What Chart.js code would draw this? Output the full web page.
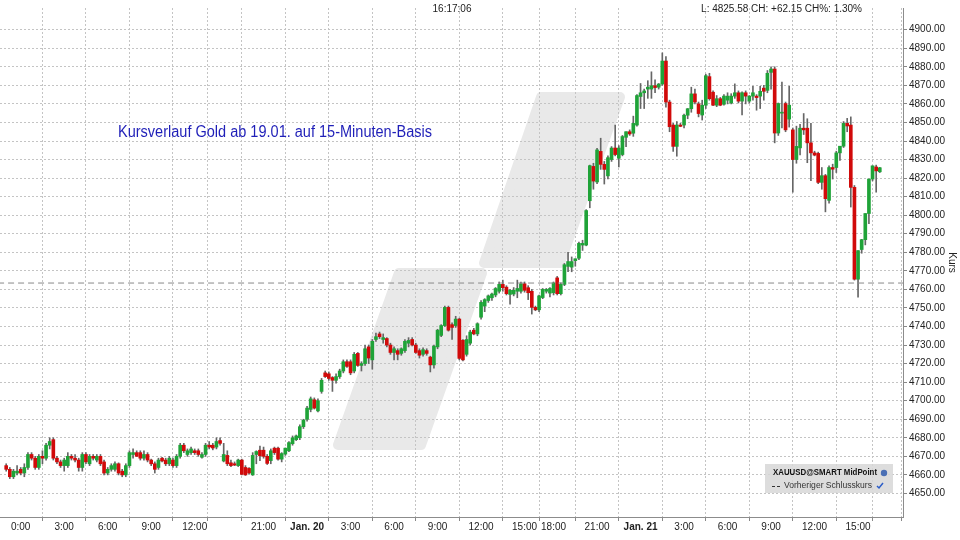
<!DOCTYPE html>
<html>
<head>
<meta charset="utf-8">
<script src="https://cdn.jsdelivr.net/npm/chart.js@4.4.1/dist/chart.umd.min.js"></script>
<style>
html, body { margin: 0; padding: 0; background: #fff; }
canvas { display: block; }
</style>
</head>
<body>
<canvas id="goldChart" width="960" height="540"></canvas>
<script>
// XAUUSD 15-Minuten-Kerzen ab 19.01.
const open = [
  4665,4663,4659,4661,4663,4661,4664,4671,4669,4664,
  4670,4669,4676,4679,4669,4667,4665,4665,4670,4669,
  4668,4664,4671,4666,4670,4668,4670,4667,4661,4663,
  4663,4666,4662,4660,4665,4671,4672,4672,4669,4671,
  4668,4666,4664,4669,4668,4666,4668,4665,4670,4676,
  4671,4672,4673,4673,4669.5,4671,4676,4676,4675,4678.5,
  4667.5,4670.5,4666.5,4666,4665,4668,4664,4663.5,4660,4671,
  4673.3,4673.3,4670,4667.7,4674.4,4674.4,4668.5,4671.2,4673,4676.8,
  4679,4680,4686,4690,4695.3,4700.5,4694.5,4705,4715,4714.5,
  4712.5,4711,4713,4716,4721,4721,4716,4725.5,4719,4720,
  4729,4722,4733,4736,4733,4733.5,4730,4726,4727,4725.5,
  4727,4731,4733,4730,4727,4725,4727,4723.5,4719.3,4729,
  4735.2,4740.5,4750.3,4741,4740.5,4744,4732.6,4725,4731,4738,
  4736,4745,4751,4754,4755.5,4757,4759,4762.7,4761.2,4757.3,
  4757.5,4759,4759,4763,4760.9,4759,4750.3,4749,4755.6,4759,
  4758,4758.2,4766.2,4757.7,4762.7,4772.4,4772,4775.5,4776.8,4783.9,
  4783.9,4807.8,4826.3,4817.9,4834.4,4827.4,4821.2,4830,4836.2,4830.7,
  4832.7,4842,4845,4844.2,4848.6,4864,4866,4868,4868,4869.8,
  4869,4870.7,4883.1,4861,4848.6,4837.1,4848.6,4848.6,4853.9,4857.4,
  4865.4,4860,4854,4859.3,4874.7,4866.3,4859.3,4862.8,4859.8,4862,
  4860.5,4864.2,4866,4861.5,4866,4861.5,4864.2,4864.2,4864.2,4868.5,
  4867.3,4877,4878.8,4844.3,4855,4860.2,4851.8,4846,4830,4836.3,
  4846.9,4846.9,4839,4833.6,4833.3,4817.7,4821.3,4808,4825.7,4825.7,
  4833.6,4837.2,4849.5,4848.6,4815,4765.5,4781.5,4786.8,4800.9,4819.5,
  4826,4823.4
];
const high = [
  4666,4664,4663,4665,4664,4666,4672,4672,4670,4671,
  4673,4677,4680,4680,4670,4668,4669,4672,4671,4671,
  4669,4672,4672,4671,4671,4671,4671,4668,4664,4666,
  4667,4666.5,4663,4666,4673,4674,4673,4673,4673,4672,
  4668.5,4667,4669,4669.5,4669,4670,4669,4671,4677,4677,
  4674,4675,4674,4674,4672,4677,4678,4677,4680,4680,
  4677,4673,4668,4667,4668.5,4668.5,4665,4664,4672,4673,
  4675.6,4675,4671,4674,4675,4675,4672,4674.5,4678,4681,
  4681.5,4687,4690,4697,4702,4701.5,4701,4712,4716,4715.5,
  4713,4714.5,4717,4722,4722,4722,4726,4726,4721,4730,
  4730,4733,4736.5,4737,4736,4734,4731,4729,4728,4728.5,
  4733,4734,4734,4731,4728,4728.5,4728,4724,4730,4738.5,
  4741,4751,4751,4742,4745.5,4744.5,4733,4735,4738,4739,
  4742,4754,4755,4757,4758,4761,4764,4765,4762,4760,
  4761,4765,4764,4764,4762,4760,4751,4757,4760.5,4760.5,
  4761,4764,4767,4763.5,4774,4780,4777.5,4776.5,4785.5,4786.5,
  4803,4827,4828,4836,4841.5,4829,4832,4837,4848.6,4837.5,
  4843,4845,4846,4853.4,4865,4871,4868,4872.5,4877.3,4873,
  4871,4887.5,4885.5,4862,4849.5,4850.5,4849.5,4854.5,4857.5,4869,
  4868,4861,4862,4876,4876.5,4867,4864.5,4863.5,4865,4866,
  4865.5,4870.8,4867,4866.5,4867,4864.5,4869.5,4865,4869.5,4870,
  4878,4880,4880,4860.5,4871.7,4861,4869.5,4847,4848,4849,
  4854.8,4852,4849.5,4834.5,4834,4825.7,4822,4826.6,4827.5,4834.5,
  4835,4850.5,4852.2,4853,4816,4780.9,4787,4800.9,4819.5,4826.6,
  4827,4825.8
];
const low = [
  4662,4658,4658,4660,4660,4659,4663,4668,4663,4663,
  4666,4668,4674,4668,4666,4664,4662,4664,4668,4667,
  4662,4662,4666,4665,4668,4667,4665,4660,4660,4662,
  4662,4660,4659,4659,4664,4669,4670,4668,4668,4667,
  4665,4661,4663,4667,4665,4665,4664,4664,4669,4672,
  4670,4671,4671,4670,4669,4670,4674,4673.5,4674,4676,
  4667,4665,4664.5,4665,4664.5,4660,4659.7,4660.5,4659.7,4666,
  4667.7,4669,4665.6,4666,4671,4668,4667,4670.5,4672.5,4676,
  4678.5,4679,4685,4689,4694,4695.5,4694,4704,4712.5,4711,
  4705,4709.5,4712,4715,4718,4714,4715,4718.5,4716,4719,
  4720,4717,4732,4733.5,4731,4729,4725,4722,4722,4724.5,
  4726,4729,4729.5,4725.5,4723,4724,4724.5,4715.5,4717.5,4728,
  4734.5,4740,4737.5,4733,4739.5,4722,4721.5,4724,4730,4735.5,
  4735,4744,4748,4753,4754,4756,4758,4759,4757,4752,
  4756.5,4755.5,4758,4758.5,4754.5,4746.7,4748.5,4748,4755,4758,
  4756,4757,4757,4757,4762,4769.5,4769.5,4772.5,4776,4781,
  4783.5,4804,4814,4817,4824.7,4816.8,4819.5,4829,4832,4826,
  4832,4837,4843,4842.5,4848,4857.5,4857.5,4863,4863,4866,
  4868,4870,4858.3,4845,4834.4,4831.8,4847.7,4847,4852,4855.5,
  4860,4853,4851.3,4857.5,4862,4859,4858.5,4859,4859.3,4860,
  4860,4863,4860.5,4854,4860,4860.5,4862,4856.6,4857.5,4862,
  4866,4868,4839,4843,4847,4845,4847.5,4812.4,4828,4832.5,
  4843.5,4828.3,4818.6,4832,4817,4814,4801.8,4806.5,4819.5,4823,
  4829.5,4836.5,4845,4804.4,4765,4755.8,4779.5,4784,4795.5,4818.5,
  4812.4,4823
];
const close = [
  4663,4659,4662,4662,4661,4664,4671,4669,4664,4670,
  4669,4676,4678,4669,4667,4665,4668,4670,4669,4668,
  4664,4671,4667,4670,4669,4670,4666,4661,4663,4665,
  4666,4661,4660,4665,4672,4672,4670,4669,4671,4668,
  4666,4663,4668,4667.5,4666,4669,4665,4670,4676,4673,
  4673,4674,4672,4671,4671,4676,4675,4674.5,4678,4677,
  4671,4666,4665,4665.3,4668,4660.3,4660,4661,4670.5,4672.6,
  4670.3,4670,4666.2,4673,4672,4668.5,4671.5,4674.4,4677.4,4680,
  4681,4686,4689.5,4696,4701,4696,4700,4711,4713,4712,
  4711,4713,4716,4721,4718.5,4715,4725,4719,4720,4728,
  4723,4732,4734.5,4734.5,4734,4730,4726,4728,4725,4728,
  4732,4732.5,4730,4726,4724.5,4727.5,4725.5,4719.3,4729.4,4738,
  4740.5,4750.3,4738,4739.5,4744,4722.8,4722,4733,4737,4736,
  4741.5,4753,4754.5,4756.5,4757.5,4760.5,4762.7,4760.9,4757.7,4759.5,
  4759.5,4760.5,4763,4759.5,4758.2,4750.3,4749,4756.5,4760,4760,
  4760.5,4763.5,4757.7,4762.7,4773.3,4775,4775,4776.5,4784.8,4784.8,
  4802.5,4826.7,4818.4,4835.2,4827.4,4824.7,4831,4836.2,4832.7,4836.2,
  4842.4,4845,4843.8,4849.5,4864.5,4866,4867,4869,4869.8,4868.8,
  4870.7,4883.1,4861,4847.7,4837.1,4848.6,4847.9,4853.9,4857.4,4865.4,
  4861,4854.8,4859.3,4875.2,4862.8,4859.3,4862.8,4859.3,4864.2,4864.2,
  4864.2,4866,4861.5,4866,4864.2,4864.2,4866,4863.4,4866.8,4866.8,
  4876.5,4878.8,4844.3,4860.2,4855.5,4846,4859.3,4830,4837.1,4846.9,
  4846,4839,4833.6,4832.4,4817.7,4821.3,4808.9,4825.7,4824.8,4833.6,
  4837.2,4849.5,4848.1,4815,4765.5,4780.9,4786.8,4800.9,4819.5,4826.6,
  4823.9,4825.58
];
const prevClose = 4763.43;

// Handelszeiten, die Zeitachse hat keine Luecken
const sessions = [
  ["2026-01-18T23:00", "2026-01-19T13:30"],
  ["2026-01-19T18:00", "2026-01-20T16:45"],
  ["2026-01-20T18:00", "2026-01-21T17:30"]
];
const tickTimes = ["19.01. 00:00","19.01. 03:00","19.01. 06:00","19.01. 09:00","19.01. 12:00","19.01. 18:00","19.01. 21:00",
  "20.01. 00:00","20.01. 03:00","20.01. 06:00","20.01. 09:00","20.01. 12:00","20.01. 15:00","20.01. 18:00","20.01. 21:00",
  "21.01. 00:00","21.01. 03:00","21.01. 06:00","21.01. 09:00","21.01. 12:00","21.01. 15:00","21.01. 17:00"];
const tickText = ["0:00","3:00","6:00","9:00","12:00","","21:00",
  "Jan. 20","3:00","6:00","9:00","12:00","15:00","18:00","21:00",
  "Jan. 21","3:00","6:00","9:00","12:00","15:00",""];

var times = [];
function pad(n) { return (n < 10 ? "0" : "") + n; }
sessions.forEach(function(s) {
  var t = new Date(s[0] + ":00Z").getTime();
  var end = new Date(s[1] + ":00Z").getTime();
  for (; t <= end; t += 15 * 60000) {
    var d = new Date(t);
    times.push(pad(d.getUTCDate()) + "." + pad(d.getUTCMonth() + 1) + ". " + pad(d.getUTCHours()) + ":" + pad(d.getUTCMinutes()));
  }
});
var tickIdx = tickTimes.map(function(t) { return times.indexOf(t); });

var bodies = [], wicks = [], colors = [];
for (var i = 0; i < close.length; i++) {
  bodies.push({ x: i, y: [open[i], close[i]] });
  wicks.push({ x: i, y: [low[i], high[i]] });
  colors.push(close[i] >= open[i] ? '#1fa338' : '#d10a0a');
}

const FONT = "'Liberation Sans', Arial, sans-serif";

// Text auf feste Breite bringen
function fitText(c, txt, x, y, width) {
  var w = c.measureText(txt).width;
  c.save();
  c.translate(x, y);
  c.scale(Math.min(1, width / w), 1);
  c.fillText(txt, 0, 0);
  c.restore();
}

// Logo im Hintergrund, Texte oben, Legendenbox unten rechts
const deko = {
  id: 'deko',
  beforeDraw(chart) {
    const c = chart.ctx;
    c.save();
    c.fillStyle = '#e9e9e9';
    c.strokeStyle = '#e9e9e9';
    c.lineJoin = 'round';
    c.lineWidth = 10;
    c.beginPath();
    c.moveTo(338, 445); c.lineTo(399, 273); c.lineTo(482, 273); c.lineTo(421, 445); c.closePath();
    c.fill(); c.stroke();
    c.beginPath();
    c.moveTo(484, 263); c.lineTo(541, 97); c.lineTo(620, 97); c.lineTo(560, 263); c.closePath();
    c.fill(); c.stroke();
    c.restore();
  },
  afterDraw(chart) {
    const c = chart.ctx;
    c.save();
    c.fillStyle = '#222';
    c.font = "10px " + FONT;
    c.textBaseline = 'middle';
    c.textAlign = 'center';
    c.fillText("16:17:06", 452, 9);
    const last = close[close.length - 1];
    const ch = last - prevClose;
    c.textAlign = 'right';
    c.fillText("L: " + last.toFixed(2) + " CH: +" + ch.toFixed(2) + " CH%: " + (ch / prevClose * 100).toFixed(2) + "%", 862, 9);

    // Titel
    c.textAlign = 'left';
    c.fillStyle = '#1f1fb8';
    c.font = "16px " + FONT;
    fitText(c, "Kursverlauf Gold ab 19.01. auf 15-Minuten-Basis", 118, 133, 314);
    c.restore();

    // Legende
    c.save();
    c.fillStyle = 'rgba(215,215,215,0.85)';
    c.fillRect(765, 464, 128, 29);
    c.textBaseline = 'middle';
    c.fillStyle = '#111';
    c.font = "bold 9px " + FONT;
    fitText(c, "XAUUSD@SMART MidPoint", 773, 473, 104);
    c.font = "9px " + FONT;
    c.fillStyle = '#333';
    fitText(c, "Vorheriger Schlusskurs", 784, 486, 88);
    c.strokeStyle = '#333';
    c.setLineDash([3, 2]);
    c.beginPath(); c.moveTo(772, 486.5); c.lineTo(782, 486.5); c.stroke();
    c.setLineDash([]);
    c.fillStyle = '#4a6fb5';
    c.beginPath(); c.arc(884, 473, 3.2, 0, Math.PI * 2); c.fill();
    c.strokeStyle = '#2a5cc8';
    c.lineWidth = 1.5;
    c.beginPath(); c.moveTo(877, 486); c.lineTo(879, 488); c.lineTo(883, 483); c.stroke();
    c.restore();
  }
};

new Chart(document.getElementById('goldChart'), {
  type: 'bar',
  data: {
    datasets: [
      {
        label: 'Kerzen',
        data: bodies,
        backgroundColor: colors,
        barThickness: 3,
        minBarLength: 1,
        grouped: false,
        order: 1
      },
      {
        label: 'Dochte',
        data: wicks,
        backgroundColor: '#666666',
        barThickness: 1,
        grouped: false,
        order: 2
      },
      {
        type: 'line',
        label: 'Vorheriger Schlusskurs',
        data: [{ x: -5, y: prevClose }, { x: 260, y: prevClose }],
        borderColor: '#8a8a8a',
        borderWidth: 1,
        borderDash: [6, 4],
        pointRadius: 0,
        order: 0
      }
    ]
  },
  options: {
    responsive: false,
    devicePixelRatio: 1,
    animation: false,
    layout: { padding: 0 },
    plugins: { legend: { display: false }, tooltip: { enabled: false } },
    scales: {
      x: {
        type: 'linear',
        min: -1.71,
        max: 247.4,
        offset: false,
        afterBuildTicks: function(scale) {
          scale.ticks = tickIdx.map(function(v) { return { value: v }; });
        },
        afterFit: function(scale) { scale.height = 23; },
        grid: { color: '#c4c4c4', tickLength: 4, tickColor: '#888' },
        border: { display: true, color: '#8c8c8c', dash: [2, 2] },
        ticks: {
          autoSkip: false,
          maxRotation: 0,
          padding: 0,
          color: '#222',
          font: function(ctx) {
            var t = tickText[ctx.index] || '';
            return { family: FONT, size: 10, weight: t.indexOf('Jan') === 0 ? 'bold' : 'normal' };
          },
          callback: function(v, idx) { return tickText[idx]; }
        }
      },
      y: {
        position: 'right',
        min: 4637.3,
        max: 4911.7,
        afterBuildTicks: function(scale) {
          var t = [];
          for (var v = 4650; v <= 4900; v += 10) t.push({ value: v });
          scale.ticks = t;
        },
        afterFit: function(scale) { scale.width = 57; },
        grid: { color: '#c4c4c4', tickLength: 4, tickColor: '#888' },
        border: { display: true, color: '#8c8c8c', dash: [2, 2] },
        title: { display: true, text: 'Kurs', color: '#222', font: { family: FONT, size: 10 }, padding: 2 },
        ticks: {
          padding: 2,
          color: '#222',
          font: { family: FONT, size: 10 },
          callback: function(v) { return Number(v).toFixed(2); }
        }
      }
    }
  },
  plugins: [deko]
});
</script>
</body>
</html>
